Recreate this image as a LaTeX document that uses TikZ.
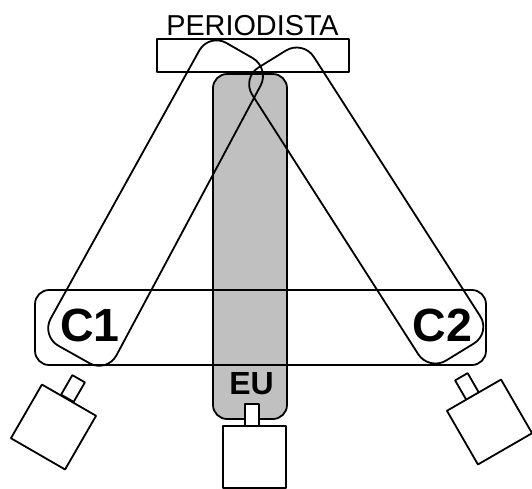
\documentclass[tikz,border=0pt]{standalone}
\usepackage{fontspec}
\setmainfont{Liberation Sans}
\usepackage{tikz}
\usetikzlibrary{positioning}
\definecolor{my_grey}{RGB}{192, 192, 192}
\tikzset{
  boxnode/.style = {draw=black, inner sep=0pt, align=center},
  roundbox/.style = {boxnode, rounded corners=0.28cm},
  camera/.style = {boxnode, fill=white, minimum width=1.25cm, minimum height=1.24cm},
  lens/.style = {boxnode, fill=white, minimum width=0.29cm, minimum height=0.45cm},
  label_s/.style = {anchor=base, inner sep=0pt, font=\fontsize{16.4}{18}\selectfont},
  label_b/.style = {anchor=base, inner sep=0pt, font=\fontsize{26.5}{30}\selectfont\bfseries},
  label_m/.style = {anchor=base, inner sep=0pt, font=\fontsize{18.2}{20}\selectfont\bfseries}
}
\begin{document}
\begin{tikzpicture}[x=0.02cm,y=-0.02cm,line width=0.036cm,line join=round,
        	loop_line/.style={rounded corners=0.4cm}]
            \useasboundingbox (0,0) rectangle (532,488);
            % gray column and the two bars
            \node [roundbox, fill=my_grey, minimum width=1.48cm, minimum height=6.9cm] (column) at (250,246.5) {};
            \node [boxnode, minimum width=3.84cm, minimum height=0.66cm] (reporter) at (253,55.5) {};
            \node [roundbox, minimum width=9.02cm, minimum height=1.5cm] (bar) at (260.5,327.5) {};
            % the two loops
            \draw [loop_line] (209,33) -- (270,68) -- (107,373) -- (41,336) -- cycle;
            \draw [loop_line] (303,40) -- (491,333) -- (429,371) -- (241.5,78) -- cycle;
            % cameras
            \node [lens] (lens_mid) at (252,415) {};
            \node [camera] (cam_mid) at (254.5,457) {};
            \node [lens, rotate=-30] (lens_left) at (73,388.5) {};
            \node [camera, rotate=-30] (cam_left) at (53.5,427) {};
            \node [lens, rotate=30] (lens_right) at (467,386.5) {};
            \node [camera, rotate=30] (cam_right) at (489.5,422) {};
            % labels
            \node [label_s] (name_top) at (252.5,35) {PERIODISTA};
            \node [label_b] (name_c1) at (90,341) {C1};
            \node [label_b] (name_c2) at (442.5,341) {C2};
            \node [label_m] (name_eu) at (251.5,394) {EU};
        \end{tikzpicture}
\end{document}
